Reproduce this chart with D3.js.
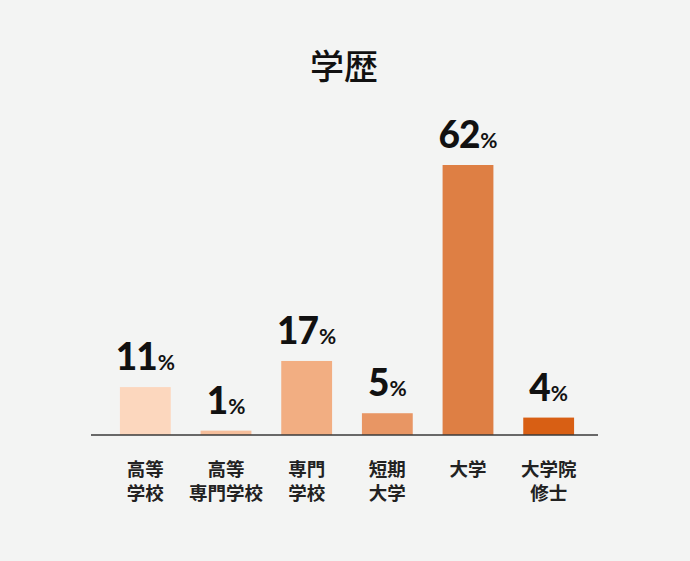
<!DOCTYPE html>
<html>
<head>
<meta charset="utf-8">
<script src="https://d3js.org/d3.v7.min.js"></script>
<style>
  html, body { margin: 0; padding: 0; background: #f3f4f3; }
  svg { display: block; }
</style>
</head>
<body>
<div id="chart"></div>
<script>
// data
const categories = [["高等", "学校"], ["高等", "専門学校"], ["専門", "学校"], ["短期", "大学"], ["大学"], ["大学院", "修士"]];
const values = [11, 1, 17, 5, 62, 4];
const colors = ["#fcd7be", "#f5be9b", "#f2ae82", "#e89664", "#de7f44", "#d85f14"];
const title = "学歴";

const width = 690, height = 561;
const baseY = 435;

const svg = d3.select("#chart").append("svg")
    .attr("width", width)
    .attr("height", height);

svg.append("rect").attr("width", width).attr("height", height).attr("fill", "#f3f4f3");

// title
svg.append("text")
    .attr("x", 344)
    .attr("y", 79)
    .attr("text-anchor", "middle")
    .style("font-family", "'Noto Sans CJK JP', sans-serif")
    .style("font-weight", 500)
    .style("font-size", "34px")
    .attr("fill", "#111")
    .text(title);

const x = d3.scaleBand()
    .domain(d3.range(values.length))
    .range([105, 589])
    .paddingInner(0.37)
    .paddingOuter(0.185);

const y = d3.scaleLinear()
    .domain([0, 62])
    .range([baseY, 165]);

// bars
svg.selectAll(".bar")
    .data(values)
    .join("rect")
    .attr("class", "bar")
    .attr("x", (d, i) => x(i))
    .attr("y", d => y(d))
    .attr("width", x.bandwidth())
    .attr("height", d => baseY - y(d))
    .attr("fill", (d, i) => colors[i]);

// baseline
svg.append("line")
    .attr("x1", 91).attr("x2", 598)
    .attr("y1", baseY).attr("y2", baseY)
    .attr("stroke", "#3a3a3a")
    .attr("stroke-width", 1.5);

// value labels
const lab = svg.selectAll(".val")
    .data(values)
    .join("text")
    .attr("class", "val")
    .attr("x", (d, i) => x(i) + x.bandwidth() / 2)
    .attr("y", d => y(d) - 17)
    .attr("text-anchor", "middle")
    .style("font-family", "Lato, 'Open Sans', sans-serif")
    .style("font-weight", 900)
    .attr("fill", "#111");
lab.append("tspan").style("font-size", "37px").style("letter-spacing", "-1px").text(d => d);
lab.append("tspan").style("font-size", "21px").style("font-weight", 700).attr("dx", 1).text("%");

// category labels
const cat = svg.selectAll(".cat")
    .data(categories)
    .join("text")
    .attr("class", "cat")
    .attr("text-anchor", "middle")
    .style("font-family", "'Noto Sans CJK JP', sans-serif")
    .style("font-weight", 700)
    .style("font-size", "18.5px")
    .attr("fill", "#222");
cat.selectAll("tspan")
    .data((d, i) => d.map(t => ({ t, i })))
    .join("tspan")
    .attr("x", d => x(d.i) + x.bandwidth() / 2)
    .attr("y", (d, j) => 476 + j * 24)
    .text(d => d.t);
</script>
</body>
</html>
